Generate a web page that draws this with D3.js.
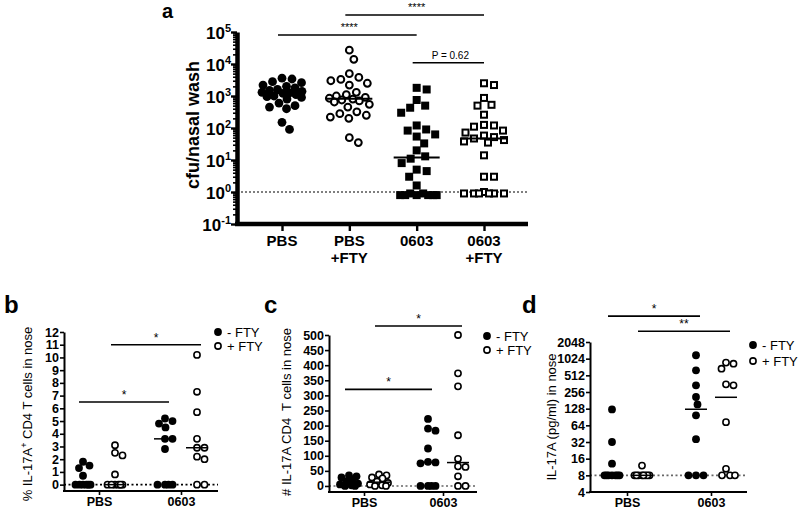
<!DOCTYPE html>
<html>
<head>
<meta charset="utf-8">
<script src="https://cdn.jsdelivr.net/npm/d3@7"></script>
<style>
  body { margin: 0; background: #fff; }
  svg { display: block; font-family: "Liberation Sans", Arial, sans-serif; }
</style>
</head>
<body>
<svg id="fig" width="800" height="509"></svg>
<script>
// ---- panel a : cfu / nasal wash ----
const catsA = ['PBS', 'PBS+FTY', '0603', '0603+FTY'];
const catLinesA = [['PBS'], ['PBS', '+FTY'], ['0603'], ['0603', '+FTY']];
const cfuPBS = [3600, 3400, 2800, 2600, 2200, 2000, 1800, 1600, 1500, 1400, 1300, 1250,
                1200, 1100, 1000, 950, 900, 800, 600, 500, 450, 400, 150, 90];
const cfuPBSFTY = [27000, 14000, 5000, 3800, 3300, 3000, 2500, 2200, 1300, 1100, 1000, 900, 850,
                   800, 750, 700, 650, 550, 450, 320, 280, 250, 220, 200, 50, 35];
const cfu0603 = [1800, 1600, 750, 500, 430, 300, 120, 90, 83, 63, 54, 33, 20, 13, 11, 8, 5, 4.5,
                 3, 1.6, 0.9, 0.9, 0.8, 0.8, 0.8, 0.8, 0.8, 0.8];
const cfu0603FTY = [2500, 2200, 870, 530, 500, 260, 125, 120, 110, 83, 72, 58, 52, 47, 42, 38, 35,
                    14, 3, 3, 1, 0.9, 0.9, 0.9, 0.9, 0.9, 0.9];
const decadesA = [-1, 0, 1, 2, 3, 4, 5];
const sigA = [[0, 2, 8e4, '****'], [1, 3, 3.4e5, '****'], [2, 3, 1.1e4, 'P = 0.62']];

// ---- panels b, c, d : two groups, -FTY / +FTY ----
const groups = ['PBS', '0603'];

const pctPBSminus = [1.8, 1.5, 1.3, 0.7, 0, 0, 0, 0, 0, 0];
const pctPBSplus = [3.1, 2.5, 2.3, 0.8, 0, 0, 0, 0, 0, 0];
const pct0603minus = [5.2, 5.0, 4.8, 4.5, 3.6, 3.6, 2.8, 0, 0, 0, 0];
const pct0603plus = [10.2, 7.3, 5.7, 3.6, 2.9, 2.9, 2.2, 2.0, 0, 0];
const pctTicks = d3.range(0, 13);

const numPBSminus = [35, 32, 28, 22, 15, 8, 5, 2, 0, 0];
const numPBSplus = [38, 35, 28, 25, 15, 10, 5, 2, 0, 0];
const num0603minus = [222, 190, 183, 124, 80, 78, 75, 0, 0, 0, 0];
const num0603plus = [500, 373, 330, 168, 90, 65, 63, 32, 0, 0];
const numTicks = d3.range(0, 501, 50);

const ilPBSminus = [124, 32, 13, 8, 8, 8, 8, 8, 8, 8];
const ilPBSplus = [12, 8, 8, 8, 8, 8, 8, 8, 8];
const il0603minus = [1180, 630, 338, 208, 153, 97, 36, 8, 8, 8];
const il0603plus = [870, 830, 675, 352, 338, 73, 10.5, 8, 8, 8];
const ilTicks = [4, 8, 16, 32, 64, 128, 256, 512, 1024, 2048];

const svg = d3.select('#fig');

// beeswarm: push each point sideways (within maxHalf) until it clears the ones already placed,
// otherwise take the spot with the least overlap
function swarm(values, y, cx, dist, maxHalf) {
  const placed = [];
  values.map(v => ({ v: v, y: y(v) }))
    .sort((a, b) => a.y - b.y)
    .forEach(p => {
      let bestX = cx, bestD = -1;
      for (let k = 0; ; k++) {
        const off = (k % 2 ? 1 : -1) * Math.ceil(k / 2) * 0.5;
        if (Math.abs(off) > maxHalf) break;
        const tx = cx + off;
        let md = Infinity;
        placed.forEach(q => { md = Math.min(md, Math.hypot(q.x - tx, q.y - p.y)); });
        if (md >= dist) { bestX = tx; break; }
        if (md > bestD + 1e-9) { bestD = md; bestX = tx; }
      }
      p.x = bestX;
      placed.push(p);
    });
  return placed;
}

function drawMarks(g, pts, shape, filled, size, sw) {
  if (shape === 'circle') {
    g.selectAll(null).data(pts).enter().append('circle')
      .attr('cx', d => d.x).attr('cy', d => d.y)
      .attr('r', filled ? size : size - sw / 2)
      .attr('fill', filled ? '#000' : '#fff')
      .attr('stroke', '#000').attr('stroke-width', filled ? 0 : sw);
  } else {
    const s = filled ? size : size - sw;
    g.selectAll(null).data(pts).enter().append('rect')
      .attr('x', d => d.x - s / 2).attr('y', d => d.y - s / 2)
      .attr('width', s).attr('height', s)
      .attr('fill', filled ? '#000' : '#fff')
      .attr('stroke', '#000').attr('stroke-width', filled ? 0 : sw);
  }
}

// ================= panel a =================
const xA = d3.scalePoint().domain(catsA).range([282, 484]);
const xAi = d3.scaleLinear().domain([0, 3]).range([282, 484]);
const yA = d3.scaleLog().domain([0.1, 1e5]).range([224, 32]);
const gA = svg.append('g');

gA.append('text').attr('x', 162).attr('y', 18).attr('font-size', 20).attr('font-weight', 'bold').text('a');

// dotted line at 10^0
gA.append('line').attr('x1', 237).attr('x2', 528).attr('y1', yA(1)).attr('y2', yA(1))
  .attr('stroke', '#000').attr('stroke-width', 1.2).attr('stroke-dasharray', '2,2');

// minor ticks
const minorA = [];
decadesA.slice(0, -1).forEach(e => { for (let m = 2; m < 10; m++) minorA.push(m * Math.pow(10, e)); });
gA.append('g').attr('transform', 'translate(237,0)')
  .call(d3.axisLeft(yA).tickValues(minorA).tickSize(4).tickFormat(''))
  .call(g => g.select('.domain').remove())
  .selectAll('line').attr('stroke', '#000').attr('stroke-width', 1.6);

const axA = gA.append('g').attr('transform', 'translate(237,0)')
  .call(d3.axisLeft(yA).tickValues(decadesA.map(e => Math.pow(10, e))).tickSize(6).tickSizeOuter(0).tickFormat(''));
axA.select('.domain').attr('stroke', '#000').attr('stroke-width', 4.5);
axA.selectAll('.tick line').attr('stroke', '#000').attr('stroke-width', 2.4);

const tickLabA = gA.selectAll(null).data(decadesA).enter().append('text')
  .attr('x', 231).attr('y', e => yA(Math.pow(10, e)) + 7)
  .attr('text-anchor', 'end').attr('font-weight', 'bold').attr('font-size', 17);
tickLabA.append('tspan').text('10');
tickLabA.append('tspan').attr('dy', -7).attr('font-size', 11).text(e => e);

gA.append('text').attr('transform', 'translate(199,125) rotate(-90)')
  .attr('text-anchor', 'middle').attr('font-weight', 'bold').attr('font-size', 18).text('cfu/nasal wash');

// x axis
const axAx = gA.append('g').attr('transform', 'translate(0,224)')
  .call(d3.axisBottom(xA).tickSize(7).tickSizeOuter(0).tickFormat(''));
axAx.select('.domain').attr('d', 'M235,0H528').attr('stroke', '#000').attr('stroke-width', 4.5);
axAx.selectAll('.tick line').attr('stroke', '#000').attr('stroke-width', 2.4);

catLinesA.forEach((lines, i) => {
  lines.forEach((t, j) => {
    gA.append('text').attr('x', xA(catsA[i])).attr('y', 246 + j * 17)
      .attr('text-anchor', 'middle').attr('font-weight', 'bold').attr('font-size', 15).text(t);
  });
});

const seriesA = [
  [cfuPBS, 'circle', true], [cfuPBSFTY, 'circle', false],
  [cfu0603, 'square', true], [cfu0603FTY, 'square', false]
];
seriesA.forEach(([vals, shape, filled], i) => {
  const cx = xA(catsA[i]);
  const pts = swarm(vals, yA, cx, 10, 20);
  drawMarks(gA.append('g'), pts, shape, filled, shape === 'circle' ? 4.4 : 8, 2);
  const med = d3.median(vals);
  gA.append('line').attr('x1', cx - 23).attr('x2', cx + 23)
    .attr('y1', yA(med)).attr('y2', yA(med)).attr('stroke', '#000').attr('stroke-width', 2);
});

sigA.forEach(([i0, i1, v, lab]) => {
  const y = yA(v);
  gA.append('line').attr('x1', xAi(i0) - 4).attr('x2', xAi(i1)).attr('y1', y).attr('y2', y)
    .attr('stroke', '#000').attr('stroke-width', 1.5);
  gA.append('text').attr('x', (xAi(i0) + xAi(i1)) / 2).attr('y', y - 4)
    .attr('text-anchor', 'middle').attr('font-size', lab.startsWith('P') ? 10 : 11).text(lab);
});

// ================= panels b, c, d =================
function drawPanel(cfg) {
  const g = svg.append('g');
  const x = d3.scalePoint().domain(groups).range(cfg.xr);
  const y = cfg.y;

  g.append('text').attr('x', cfg.letterX).attr('y', 313).attr('font-size', 24)
    .attr('font-weight', 'bold').text(cfg.letter);

  // reference dotted line
  g.append('line').attr('x1', cfg.ax0).attr('x2', cfg.ax1)
    .attr('y1', y(cfg.base)).attr('y2', y(cfg.base))
    .attr('stroke', cfg.dotColor).attr('stroke-width', 1.6).attr('stroke-dasharray', '2,2.5');

  const ay = g.append('g').attr('transform', `translate(${cfg.ax0},0)`)
    .call(d3.axisLeft(y).tickValues(cfg.ticks).tickSize(4).tickSizeOuter(0).tickFormat(d3.format('d')));
  ay.select('.domain').attr('stroke', '#000').attr('stroke-width', 2);
  ay.selectAll('.tick line').attr('stroke', '#000').attr('stroke-width', 1.6);
  ay.selectAll('.tick text').attr('x', -5).attr('fill', '#000')
    .attr('font-size', 12.5).attr('font-weight', 'bold').attr('font-family', null);

  const ax = g.append('g').attr('transform', `translate(0,${cfg.yBottom})`)
    .call(d3.axisBottom(x).tickSize(4).tickSizeOuter(0));
  ax.select('.domain').attr('d', `M${cfg.ax0 - 1},0H${cfg.ax1}`).attr('stroke', '#000').attr('stroke-width', 2);
  ax.selectAll('.tick line').attr('stroke', '#000').attr('stroke-width', 1.6);
  ax.selectAll('.tick text').attr('y', 6).attr('fill', '#000')
    .attr('font-size', 12.5).attr('font-weight', 'bold').attr('font-family', null);

  g.append('text').attr('transform', `translate(${cfg.titleX},${cfg.titleY}) rotate(-90)`)
    .attr('text-anchor', 'middle').attr('font-size', 13).html(cfg.title);

  const sub = cfg.sub;
  const series = [
    [cfg.data[0], 0, true], [cfg.data[1], 0, false],
    [cfg.data[2], 1, true], [cfg.data[3], 1, false]
  ];
  series.forEach(([vals, gi, filled]) => {
    const cx = x(groups[gi]) + (filled ? -sub : sub);
    const pts = swarm(vals, y, cx, 7.5, 9);
    drawMarks(g.append('g'), pts, 'circle', filled, 3.9, 1.6);
    const med = d3.median(vals);
    g.append('line').attr('x1', cx - 11).attr('x2', cx + 11).attr('y1', y(med)).attr('y2', y(med))
      .attr('stroke', '#000').attr('stroke-width', 1.5);
  });

  cfg.sig.forEach(([filled, v, lab]) => {
    const off = filled ? -sub : sub;
    const x0 = x(groups[0]) + off - 4, x1 = x(groups[1]) + off + 4;
    g.append('line').attr('x1', x0).attr('x2', x1).attr('y1', y(v)).attr('y2', y(v))
      .attr('stroke', '#000').attr('stroke-width', 1.6);
    g.append('text').attr('x', (x0 + x1) / 2).attr('y', y(v) - 3).attr('text-anchor', 'middle')
      .attr('font-size', 12).text(lab);
  });

  // legend
  [['- FTY', true], ['+ FTY', false]].forEach(([t, filled], i) => {
    const ly = cfg.legY + i * cfg.legGap;
    g.append('circle').attr('cx', cfg.legX).attr('cy', ly).attr('r', filled ? 3.9 : 3.1)
      .attr('fill', filled ? '#000' : '#fff').attr('stroke', '#000').attr('stroke-width', filled ? 0 : 1.6);
    g.append('text').attr('x', cfg.legX + 9).attr('y', ly + 4.5).attr('font-size', 13).text(t);
  });
}

drawPanel({
  letter: 'b', letterX: 4,
  y: d3.scaleLinear().domain([-0.5, 12]).range([491, 332]),
  xr: [99, 181], sub: 16, ax0: 64, ax1: 218, yBottom: 491, base: 0, dotColor: '#000',
  ticks: pctTicks, titleX: 32, titleY: 414,
  title: '% IL-17A<tspan dy="-5" font-size="9">+</tspan><tspan dy="5"> CD4 T cells in nose</tspan>',
  data: [pctPBSminus, pctPBSplus, pct0603minus, pct0603plus],
  sig: [[true, 6.5, '*'], [false, 11, '*']],
  legX: 218, legY: 332, legGap: 14
});

drawPanel({
  letter: 'c', letterX: 264,
  y: d3.scaleLinear().domain([-20, 500]).range([492, 335]),
  xr: [364, 443], sub: 15, ax0: 329, ax1: 477, yBottom: 492, base: 0, dotColor: '#666',
  ticks: numTicks, titleX: 291, titleY: 412,
  title: '# IL-17A CD4&#160; T cells in nose',
  data: [numPBSminus, numPBSplus, num0603minus, num0603plus],
  sig: [[true, 320, '*'], [false, 530, '*']],
  legX: 487, legY: 336, legGap: 14
});

drawPanel({
  letter: 'd', letterX: 522,
  y: d3.scaleLog().base(2).domain([4, 2048]).range([492, 342]),
  xr: [627, 711], sub: 15, ax0: 590, ax1: 747, yBottom: 492, base: 8, dotColor: '#666',
  ticks: ilTicks, titleX: 556, titleY: 417,
  title: 'IL-17A (pg/ml) in nose',
  data: [ilPBSminus, ilPBSplus, il0603minus, il0603plus],
  sig: [[true, 6000, '*'], [false, 3200, '**']],
  legX: 753, legY: 345, legGap: 16
});
</script>
</body>
</html>
